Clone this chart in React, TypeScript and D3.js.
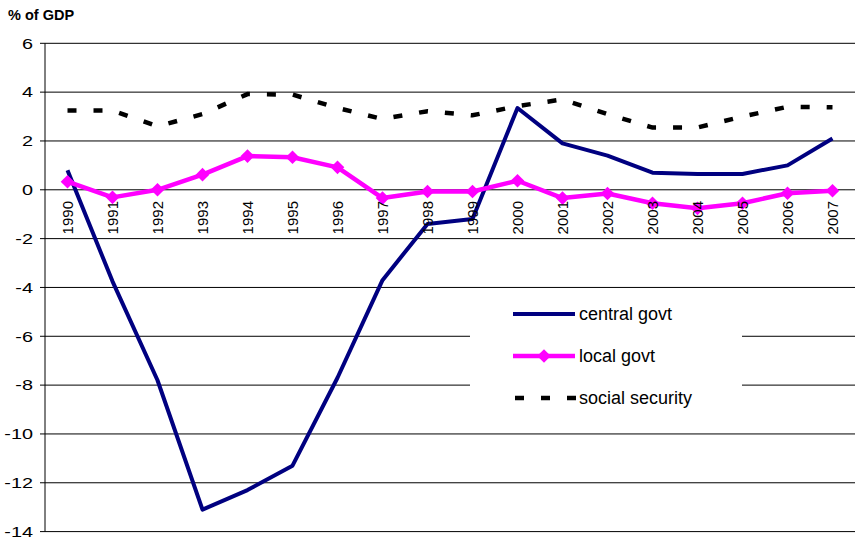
import React from "react";
import * as d3 from "d3";

const years = [
  "1990", "1991", "1992", "1993", "1994", "1995", "1996", "1997", "1998",
  "1999", "2000", "2001", "2002", "2003", "2004", "2005", "2006", "2007",
];
const centralGovt = [
  0.8, -3.75, -7.8, -13.1, -12.3, -11.3, -7.7, -3.7, -1.4,
  -1.2, 3.35, 1.9, 1.4, 0.7, 0.65, 0.65, 1.0, 2.1,
];
const localGovt = [
  0.33, -0.31, 0, 0.62, 1.38, 1.33, 0.92, -0.34, -0.07,
  -0.07, 0.37, -0.34, -0.15, -0.55, -0.76, -0.55, -0.14, -0.04,
];
const socialSecurity = [
  3.25, 3.25, 2.6, 3.1, 3.92, 3.9, 3.35, 2.9, 3.22,
  3.05, 3.43, 3.7, 3.1, 2.55, 2.55, 3.0, 3.4, 3.38,
];
const yTicks = [6, 4, 2, 0, -2, -4, -6, -8, -10, -12, -14];
const seriesNames = ["central govt", "local govt", "social security"];

const W = 858;
const H = 539;
const FONT = "'Liberation Sans', Arial, sans-serif";

export default function App() {
  const x = d3.scalePoint<string>().domain(years).range([45, 855]).padding(0.5);
  const y = d3.scaleLinear().domain([-14, 6]).range([531.6, 43.3]);

  const line = d3
    .line<number>()
    .x((_, i) => x(years[i]) as number)
    .y((d) => y(d));

  const diamond = (cx: number, cy: number, r: number) =>
    `M${cx},${cy - r}L${cx + r},${cy}L${cx},${cy + r}L${cx - r},${cy}Z`;

  const legendX1 = 513;
  const legendX2 = 575;
  const legendYs = [314, 356, 398];

  return (
    <svg
      width={W}
      height={H}
      style={{ position: "absolute", left: 0, top: 0, background: "#fff" }}
      fontFamily={FONT}
    >
      <rect x={0} y={0} width={W} height={H} fill="#fff" />
      <text x={8} y={20} fontSize={14.5} fontWeight="bold" fill="#000">
        % of GDP
      </text>

      {/* horizontal gridlines */}
      {yTicks.map((t) => (
        <line key={`g${t}`} x1={45} x2={855} y1={y(t)} y2={y(t)} stroke="#000" strokeWidth={1} />
      ))}

      {/* y axis with ticks and labels */}
      <line x1={45} x2={45} y1={y(6)} y2={y(-14)} stroke="#000" strokeWidth={1} />
      {yTicks.map((t) => (
        <g key={`t${t}`}>
          <line x1={40} x2={45} y1={y(t)} y2={y(t)} stroke="#000" strokeWidth={1} />
          <text
            transform={`translate(33,${y(t)}) scale(1.28,1)`}
            textAnchor="end"
            dy="0.34em"
            fontSize={15.5}
            fill="#000"
          >
            {t}
          </text>
        </g>
      ))}

      {/* series */}
      <path d={line(centralGovt) || ""} fill="none" stroke="#000080" strokeWidth={4} strokeLinejoin="round" />
      <path d={line(localGovt) || ""} fill="none" stroke="#FF00FF" strokeWidth={4.5} strokeLinejoin="round" />
      {localGovt.map((v, i) => (
        <path key={`m${i}`} d={diamond(x(years[i]) as number, y(v), 6.8)} fill="#FF00FF" />
      ))}
      <path
        d={line(socialSecurity) || ""}
        fill="none"
        stroke="#000"
        strokeWidth={4.5}
        strokeDasharray="9 17"
      />

      {/* category labels */}
      {years.map((yr) => (
        <text
          key={`x${yr}`}
          transform={`translate(${x(yr)},201) rotate(-90)`}
          textAnchor="end"
          dy="0.36em"
          fontSize={15}
          fill="#000"
        >
          {yr}
        </text>
      ))}

      {/* legend */}
      <rect x={470} y={295} width={272} height={126} fill="#fff" />
      <line x1={legendX1} x2={legendX2} y1={legendYs[0]} y2={legendYs[0]} stroke="#000080" strokeWidth={4} />
      <line x1={legendX1} x2={legendX2} y1={legendYs[1]} y2={legendYs[1]} stroke="#FF00FF" strokeWidth={4.5} />
      <path d={diamond((legendX1 + legendX2) / 2, legendYs[1], 6.8)} fill="#FF00FF" />
      <line
        x1={legendX1 + 2}
        x2={legendX2 + 2}
        y1={legendYs[2]}
        y2={legendYs[2]}
        stroke="#000"
        strokeWidth={4.5}
        strokeDasharray="9 17"
      />
      {seriesNames.map((name, i) => (
        <text key={name} x={579} y={legendYs[i]} dy="0.36em" fontSize={18} fill="#000">
          {name}
        </text>
      ))}
    </svg>
  );
}
